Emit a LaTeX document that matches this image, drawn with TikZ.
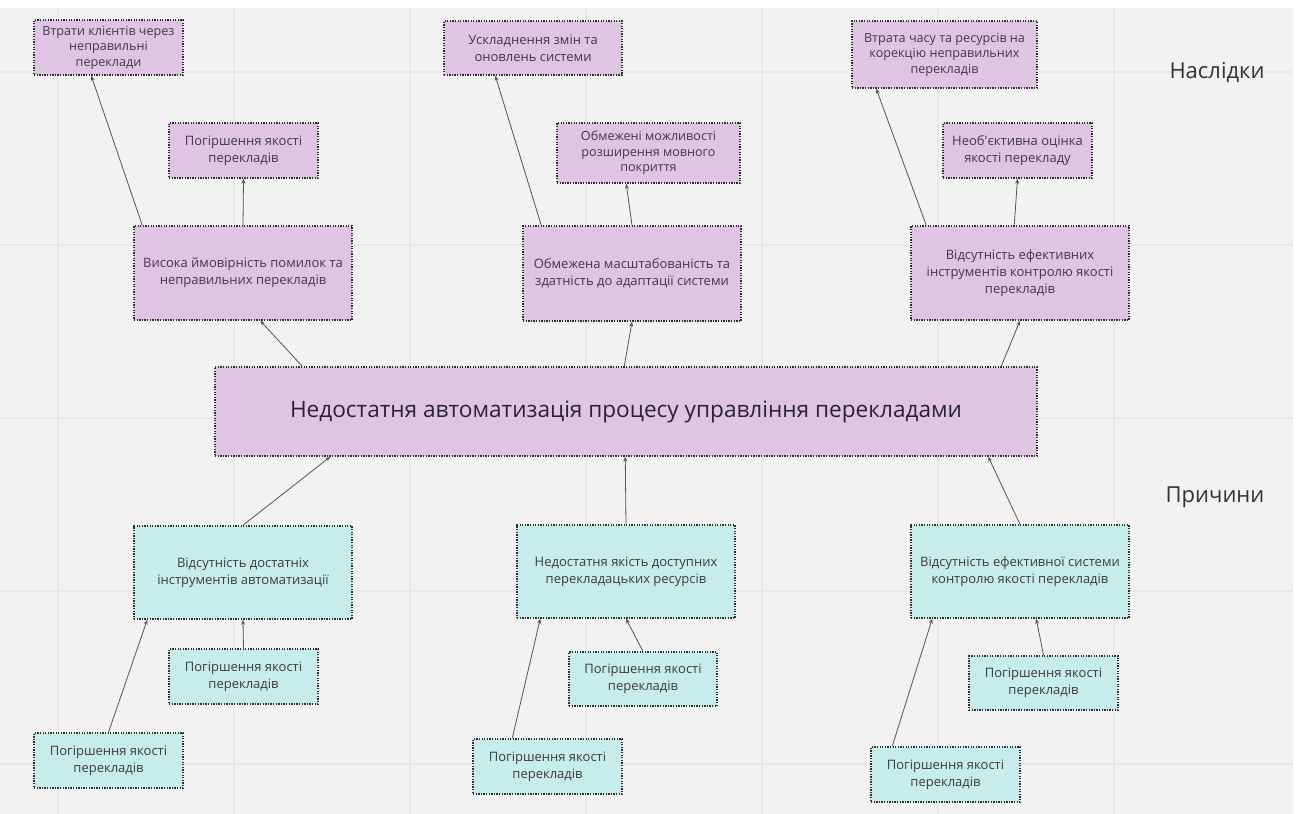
\documentclass[tikz,border=0pt]{standalone}
\usepackage{fontspec}
\setmainfont{Open Sans}
\usetikzlibrary{arrows.meta}
\definecolor{bg}{HTML}{F2F2F2}
\definecolor{gridc}{HTML}{E8E8E8}
\definecolor{purp}{HTML}{E0C4E4}
\definecolor{cyanf}{HTML}{C6ECEC}
\definecolor{bord}{HTML}{2E2E2E}
\definecolor{txt}{HTML}{3E3A44}
\definecolor{txtd}{HTML}{2A2430}
\definecolor{arr}{HTML}{555555}
\definecolor{labc}{HTML}{333333}
\begin{document}
\begin{tikzpicture}[x=1pt,y=-1pt,
  box/.style={draw=bord, line width=1.5pt, dash pattern=on 1.3pt off 1.3pt, align=center, inner sep=0pt, text=txt, font=\fontsize{13}{17}\selectfont},
  pbox/.style={box, fill=purp},
  cbox/.style={box, fill=cyanf},
  tight/.style={font=\fontsize{12.6}{15.5}\selectfont},
  link/.style={draw=arr, line width=0.8pt, -{Stealth[length=5pt,width=4pt]}},
  gline/.style={draw=gridc, line width=1.2pt},
  side/.style={text=labc, font=\fontsize{22}{26}\selectfont}]
\useasboundingbox (0,0) rectangle (1299,814);
\fill[white] (0,0) rectangle (1299,814);
\fill[bg] (0,8) rectangle (1293,814);
\foreach \x in {58,234,410,586,762,938,1114} \draw[gline] (\x,8) -- (\x,814);
\foreach \y in {72,245,418,591,764} \draw[gline] (0,\y) -- (1293,\y);

% consequences
\node[pbox, tight, minimum width=149pt, minimum height=55pt] (A1) at (108.5,47.5) {Втрати клієнтів через\\неправильні\\переклади};
\node[pbox, minimum width=149pt, minimum height=55pt] (A2) at (243.5,150.5) {Погіршення якості\\перекладів};
\node[pbox, minimum width=218pt, minimum height=94pt] (A3) at (243,273) {Висока ймовірність помилок та\\неправильних перекладів};
\node[pbox, minimum width=178pt, minimum height=54pt] (B1) at (533,48) {Ускладнення змін та\\оновлень системи};
\node[pbox, tight, minimum width=183pt, minimum height=60pt] (B2) at (648.5,153) {Обмежені можливості\\розширення мовного\\покриття};
\node[pbox, minimum width=218pt, minimum height=95pt] (B3) at (632,273.5) {Обмежена масштабованість та\\здатність до адаптації системи};
\node[pbox, tight, minimum width=185pt, minimum height=67pt] (C1) at (944.5,54.5) {Втрата часу та ресурсів на\\корекцію неправильних\\перекладів};
\node[pbox, minimum width=149pt, minimum height=55pt] (C2) at (1017.5,150.5) {Необ\textquotesingle єктивна оцінка\\якості перекладу};
\node[pbox, minimum width=218pt, minimum height=94pt] (C3) at (1020,273) {Відсутність ефективних\\інструментів контролю якості\\перекладів};

% main
\node[pbox, minimum width=822pt, minimum height=89pt, text=txtd, font=\fontsize{22.6}{27}\selectfont] (M) at (626,411.5) {Недостатня автоматизація процесу управління перекладами};

% causes
\node[cbox, minimum width=218pt, minimum height=93pt] (D1) at (243,572.5) {Відсутність достатніх\\інструментів автоматизації};
\node[cbox, minimum width=218pt, minimum height=93pt] (D2) at (626,571.5) {Недостатня якість доступних\\перекладацьких ресурсів};
\node[cbox, minimum width=218pt, minimum height=93pt] (D3) at (1020,571.5) {Відсутність ефективної системи\\контролю якості перекладів};
\node[cbox, minimum width=149pt, minimum height=55pt] (S1a) at (243.5,676.5) {Погіршення якості\\перекладів};
\node[cbox, minimum width=149pt, minimum height=55pt] (S1b) at (108.5,760.5) {Погіршення якості\\перекладів};
\node[cbox, minimum width=148pt, minimum height=54pt] (S2a) at (643,679) {Погіршення якості\\перекладів};
\node[cbox, minimum width=149pt, minimum height=55pt] (S2b) at (547.5,766.5) {Погіршення якості\\перекладів};
\node[cbox, minimum width=149pt, minimum height=54pt] (S3a) at (1043.5,683) {Погіршення якості\\перекладів};
\node[cbox, minimum width=149pt, minimum height=55pt] (S3b) at (945.5,774.5) {Погіршення якості\\перекладів};

% side labels
\node[side] (L1) at (1217,72) {Наслідки};
\node[side] (L2) at (1215,497) {Причини};

% connectors (top half)
\draw[link] ([xshift=9pt]A3.north west) -- ([xshift=58pt]A1.south west);
\draw[link] (A3.north) -- (A2.south);
\draw[link] ([xshift=88pt]M.north west) -- ([xshift=127pt]A3.south west);
\draw[link] ([xshift=19pt]B3.north west) -- ([xshift=52pt]B1.south west);
\draw[link] (B3.north) -- ([xshift=70pt]B2.south west);
\draw[link] ([xshift=410pt]M.north west) -- (B3.south);
\draw[link] ([xshift=16pt]C3.north west) -- ([xshift=25pt]C1.south west);
\draw[link] ([xshift=104pt]C3.north west) -- (C2.south);
\draw[link] ([xshift=787pt]M.north west) -- (C3.south);

% connectors (bottom half)
\draw[link] (D1.north) -- ([xshift=116pt]M.south west);
\draw[link] (D2.north) -- ([xshift=411pt]M.south west);
\draw[link] (D3.north) -- ([xshift=774pt]M.south west);
\draw[link] (S1b.north) -- ([xshift=14pt]D1.south west);
\draw[link] (S1a.north) -- (D1.south);
\draw[link] ([xshift=40pt]S2b.north west) -- ([xshift=24pt]D2.south west);
\draw[link] (S2a.north) -- (D2.south);
\draw[link] ([xshift=22pt]S3b.north west) -- ([xshift=22pt]D3.south west);
\draw[link] (S3a.north) -- ([xshift=126pt]D3.south west);
\end{tikzpicture}
\end{document}
